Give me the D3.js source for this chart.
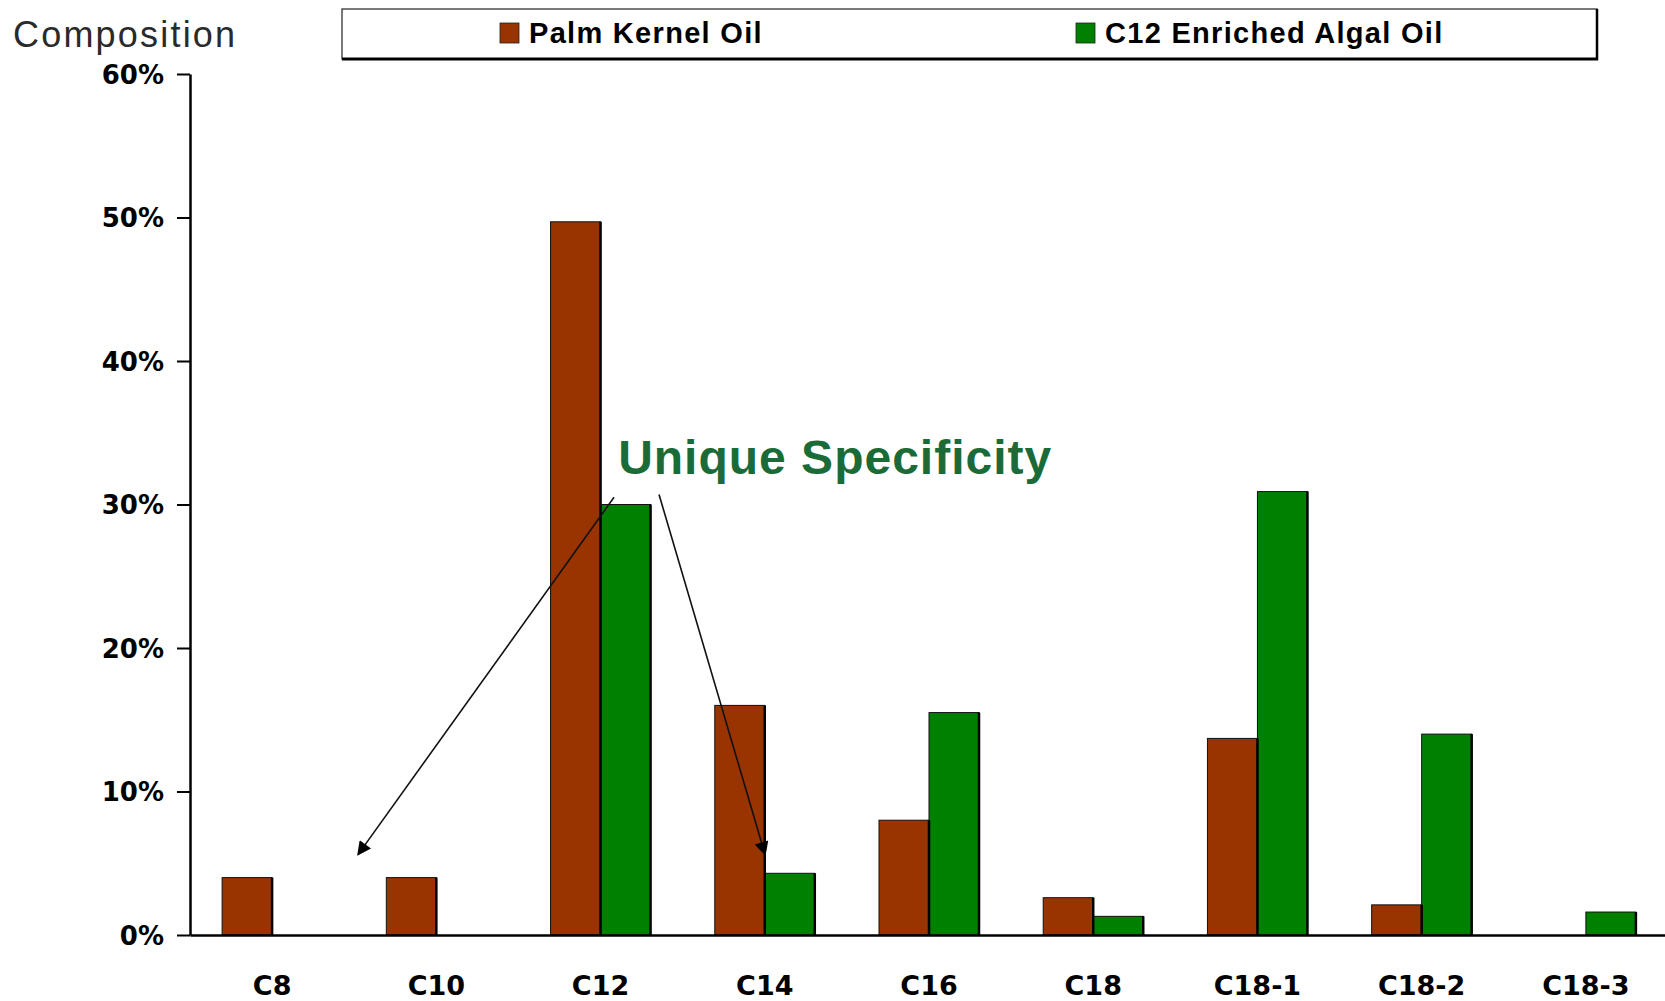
<!DOCTYPE html>
<html>
<head>
<meta charset="utf-8">
<script src="https://cdn.jsdelivr.net/npm/d3@7"></script>
<style>
  html, body { margin: 0; padding: 0; background: #fff; }
  svg { display: block; }
</style>
</head>
<body>
<svg id="chart" width="1665" height="1001"></svg>
<script>
// Fatty acid profile: chain length categories
const categories = ["C8", "C10", "C12", "C14", "C16", "C18", "C18-1", "C18-2", "C18-3"];
const seriesNames = ["Palm Kernel Oil", "C12 Enriched Algal Oil"];
const palmKernelOil = [0.04, 0.04, 0.497, 0.16, 0.08, 0.026, 0.137, 0.021, 0];
const algalOil = [0, 0, 0.30, 0.043, 0.155, 0.013, 0.309, 0.14, 0.016];
const yTicks = [0, 0.1, 0.2, 0.3, 0.4, 0.5, 0.6];
const seriesColors = ["#993300", "#008000"];

// Annotation: category index (fractional) and value for arrow ends
const noteText = "Unique Specificity";
const notePos = [2.607, 0.321];
const arrows = [
  { from: [2.582, 0.305], to: [1.023, 0.056] },
  { from: [2.856, 0.307], to: [3.502, 0.056] }
];

const svg = d3.select("#chart");
const plotLeft = 190, plotRight = 1668, plotTop = 74, plotBottom = 935;

const y = d3.scaleLinear().domain([0, 0.6]).range([plotBottom, plotTop]);
const x0 = d3.scaleBand().domain(categories).range([plotLeft, plotRight])
  .paddingInner(0.391).paddingOuter(0.1955);
const x1 = d3.scaleBand().domain(seriesNames).range([0, x0.bandwidth()]);
const xi = d3.scaleLinear().domain([0, categories.length]).range([plotLeft, plotRight]);

const rows = categories.map((c, i) => ({ cat: c, vals: [palmKernelOil[i], algalOil[i]] }));

// bars
const groups = svg.append("g").selectAll("g").data(rows).join("g")
  .attr("transform", d => `translate(${x0(d.cat)},0)`);
groups.selectAll("rect")
  .data(d => d.vals.map((v, k) => ({ v, k })).filter(e => e.v > 0))
  .join("rect")
  .attr("x", e => x1(seriesNames[e.k]))
  .attr("y", e => y(e.v))
  .attr("width", x1.bandwidth())
  .attr("height", e => y(0) - y(e.v))
  .attr("fill", e => seriesColors[e.k])
  .attr("stroke", "#111")
  .attr("stroke-width", 1);
// darker right edge on each bar
groups.selectAll("line.edge")
  .data(d => d.vals.map((v, k) => ({ v, k })).filter(e => e.v > 0))
  .join("line").attr("class", "edge")
  .attr("x1", e => x1(seriesNames[e.k]) + x1.bandwidth())
  .attr("x2", e => x1(seriesNames[e.k]) + x1.bandwidth())
  .attr("y1", e => y(e.v))
  .attr("y2", y(0))
  .attr("stroke", "#000").attr("stroke-width", 2.5);

// y axis
const yAxis = svg.append("g").attr("transform", `translate(${plotLeft},0)`)
  .call(d3.axisLeft(y).tickValues(yTicks).tickFormat(d3.format(".0%"))
    .tickSize(13).tickSizeOuter(0).tickPadding(13));
yAxis.select(".domain").attr("stroke", "#000").attr("stroke-width", 2.5);
yAxis.selectAll(".tick line").attr("stroke", "#000").attr("stroke-width", 2);
yAxis.selectAll(".tick text")
  .attr("font-family", "DejaVu Sans").attr("font-weight", "bold")
  .attr("font-size", 26).attr("fill", "#000").attr("dy", "0.36em");

// x axis
const xAxis = svg.append("g").attr("transform", `translate(0,${plotBottom})`)
  .call(d3.axisBottom(x0).tickSize(0).tickSizeOuter(0).tickPadding(57));
xAxis.select(".domain").attr("stroke", "#000").attr("stroke-width", 2.5);
xAxis.selectAll(".tick text")
  .attr("font-family", "DejaVu Sans").attr("font-weight", "bold")
  .attr("font-size", 27).attr("fill", "#000").attr("dy", "0.1em");

// axis title
svg.append("text").attr("x", 13).attr("y", 47)
  .attr("font-family", "Liberation Sans, Arial, sans-serif")
  .attr("font-size", 36).attr("letter-spacing", "2.2px")
  .attr("fill", "#2a2a2a").text("Composition");

// legend
const legend = svg.append("g");
legend.append("rect").attr("x", 342).attr("y", 9).attr("width", 1255).attr("height", 50)
  .attr("fill", "#fff").attr("stroke", "#222").attr("stroke-width", 1.2);
legend.append("line").attr("x1", 342).attr("x2", 1598).attr("y1", 59).attr("y2", 59)
  .attr("stroke", "#000").attr("stroke-width", 3);
legend.append("line").attr("x1", 1597).attr("x2", 1597).attr("y1", 9).attr("y2", 60)
  .attr("stroke", "#000").attr("stroke-width", 2.5);
const legendX = [500, 1076];
seriesNames.forEach((name, k) => {
  legend.append("rect").attr("x", legendX[k]).attr("y", 23).attr("width", 19).attr("height", 20)
    .attr("fill", seriesColors[k]).attr("stroke", "#222").attr("stroke-width", 0.8);
  legend.append("text").attr("x", legendX[k] + 29).attr("y", 43)
    .attr("font-family", "Liberation Sans, Arial, sans-serif")
    .attr("font-size", 29).attr("font-weight", "bold").attr("letter-spacing", "1.3px")
    .attr("fill", "#000").text(name);
});

// annotation arrows
const defs = svg.append("defs");
defs.append("marker").attr("id", "head").attr("viewBox", "0 0 10 10")
  .attr("refX", 9).attr("refY", 5).attr("markerWidth", 16).attr("markerHeight", 14)
  .attr("markerUnits", "userSpaceOnUse").attr("orient", "auto")
  .append("path").attr("d", "M0,0 L10,5 L0,10 Z").attr("fill", "#000");

svg.append("g").selectAll("line").data(arrows).join("line")
  .attr("x1", d => xi(d.from[0])).attr("y1", d => y(d.from[1]))
  .attr("x2", d => xi(d.to[0])).attr("y2", d => y(d.to[1]))
  .attr("stroke", "#111").attr("stroke-width", 1.6)
  .attr("marker-end", "url(#head)");

svg.append("text").attr("x", xi(notePos[0])).attr("y", y(notePos[1]))
  .attr("font-family", "Liberation Sans, Arial, sans-serif")
  .attr("font-size", 48).attr("font-weight", "bold").attr("letter-spacing", "1px")
  .attr("fill", "#1b6b38").text(noteText);
</script>
</body>
</html>
